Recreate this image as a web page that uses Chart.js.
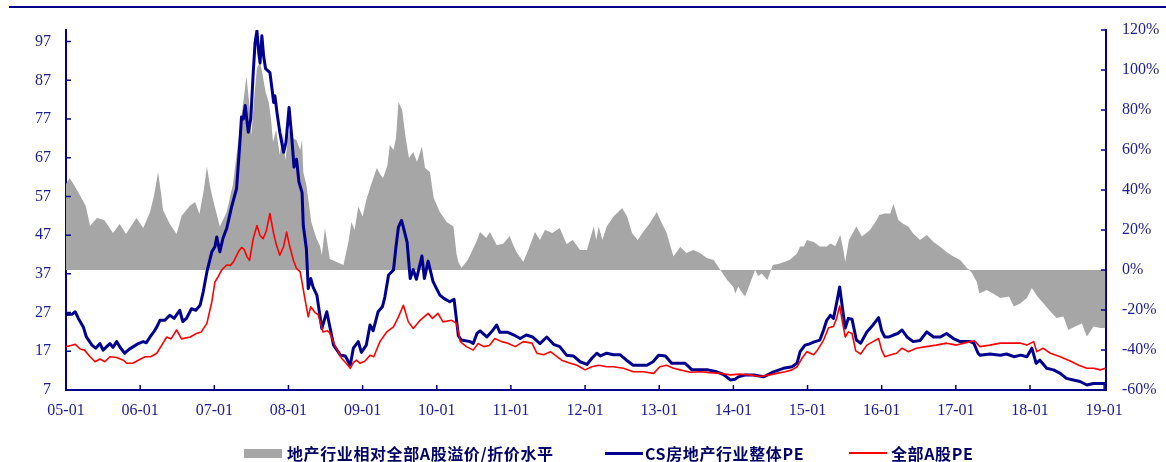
<!DOCTYPE html>
<html>
<head>
<meta charset="utf-8">
<script src="https://cdn.jsdelivr.net/npm/chart.js@4.4.1/dist/chart.umd.min.js"></script>
<style>
  html, body { margin: 0; padding: 0; background: #fff; }
  #wrap { position: relative; width: 1166px; height: 462px; overflow: hidden; }
  #c { position: absolute; left: 0; top: 0; }
  #topRule { position: absolute; left: 9px; top: 6px; width: 1157px; height: 2px; background: #00008B; }
  .leg { position: absolute; top: 444px; height: 18px; display: flex; align-items: center;
         font: bold 16px "Noto Sans CJK SC", sans-serif; letter-spacing: 0.6px; color: #000066; white-space: nowrap; }
  .sw { display: inline-block; }
</style>
</head>
<body>
<div id="wrap">
  <canvas id="c" width="1166" height="462"></canvas>
  <div id="topRule"></div>
  <div id="legend"></div>
</div>
<script>
// Month index 0 = 2005-01. Pairs are [month, value].

// Real-estate sector premium / discount vs. all A-shares (%), right axis
const premiumSeries = [
  [0,43],[0.6,46],[1.4,42],[2.5,36],[3.2,32],[3.9,22],[5,26],[6.2,25],[7.6,18.5],[8.7,23],
  [9.7,18],[11.4,26],[12.5,21],[13.6,29],[14.3,38],[14.9,49],[15.4,38],[15.7,30],[16.8,23],[17.9,18],
  [18.7,27],[20,32],[20.9,34],[21.6,28],[22.3,40],[22.8,51.7],[23.3,42],[23.8,35],[24.9,21.7],[26,29],
  [27,42.5],[27.7,60],[28.4,76.7],[29.2,96.7],[29.6,85],[30,67.5],[30.5,88],[30.9,101],[31.4,104],[31.8,98],
  [32.3,89],[32.8,84],[33.2,75],[33.5,64],[34,70],[34.6,57.5],[35.1,69],[35.5,55],[36.1,70],[36.7,66],
  [37.3,65],[37.9,60],[38.2,65],[38.4,49],[38.9,42.5],[39.7,24],[40.5,16],[41.1,12],[41.4,7.5],[41.9,21],
  [42.7,5.5],[43.8,4],[44.9,2.5],[45.7,14],[46.2,24],[46.7,20],[47.3,31.7],[48,26.7],[48.6,35],[49.2,41],
  [50.3,51],[50.8,48],[51.3,46],[52,52],[52.4,62.5],[53,60],[53.4,66],[53.8,84],[54.4,80],[54.9,67.5],
  [55.5,56],[56.2,59],[56.8,54],[57.6,61.7],[58.1,51],[58.9,49],[59.5,36],[60.5,29],[61.6,24],[62.7,21.7],
  [63.2,8],[63.5,4],[64,1],[65,5],[65.4,7.5],[66.4,14],[67,19],[68,16],[68.6,19],[69.7,12.5],
  [70.7,13],[71.8,17],[72.3,13],[72.9,9],[74,4],[74.8,10],[75.9,19],[76.7,15],[77.5,20],[78.7,18.5],
  [79.9,21],[81,13],[82,15],[83.2,10],[84.3,10],[85.4,21.7],[85.8,15],[86.2,21.7],[86.8,15],[87.5,21.7],
  [88.6,26.7],[90,31],[90.8,26.7],[91.6,18.5],[92.5,15],[93.4,19],[94.5,23.5],[95.6,29],[96.4,23.5],[97.2,18.5],
  [98.3,6.7],[99.4,11.5],[100.4,8.5],[101.5,10],[102.6,8.5],[103.7,6],[104.8,5],[105.9,0],[107,-5],[108,-8.5],
  [108.3,-11.7],[108.8,-8.3],[109.1,-10],[109.9,-13.3],[110.7,-6.7],[111.5,0],[112,-3],[112.6,-1.7],[113.5,-5],[114.4,2.5],
  [115.5,3.3],[117.1,5],[118.3,8.3],[118.8,11.7],[119.4,11.7],[119.9,15],[121,14],[122,11.7],[123.1,11.7],[123.7,13.3],
  [124.5,12],[125.3,17.5],[125.8,10],[126.1,4],[126.7,15],[127.9,21.7],[128.8,16.7],[130.1,20],[131.2,25],[131.6,27.5],
  [132.5,28.3],[133.4,28.3],[133.9,33],[134.7,25],[135.5,23],[136.3,21.7],[137.1,18.3],[138.2,15],[139.3,17.5],[140.4,14],
  [141.4,11.7],[142.5,9],[143.6,6.7],[144.7,5],[145.8,1],[146.5,-1],[147.4,-6],[147.8,-11.7],[149,-10],[150,-11.7],
  [151.2,-14],[152.6,-13.3],[153.4,-18.3],[154.4,-16.7],[155.5,-14],[156.3,-9],[157.2,-13.3],[158.2,-16.7],[159.3,-20.8],[160.3,-24],
  [161.4,-23.3],[162.2,-30],[163.3,-28.3],[164.4,-26.7],[165.2,-33.3],[166.3,-28.3],[167.4,-29],[168.2,-29]
];

// CS real-estate sector PE, left axis
const estatePE = [
  [0,26.5],[1,26.6],[1.5,27.2],[2,25.5],[2.8,23.3],[3.3,20.7],[4.2,18.6],[4.8,17.8],[5.5,19],[6,17.3],
  [7.1,19],[7.6,18],[8.2,19.5],[8.8,17.9],[9.5,16.5],[10.2,17.5],[10.9,18.2],[11.7,19],[12.5,19.5],[13,19.2],
  [13.6,20.7],[14.2,22],[14.7,23.3],[15.2,25],[16,25],[16.8,26.3],[17.5,25.5],[18.4,27.6],[18.9,24.7],[19.5,25.5],
  [20.3,28],[21,27.6],[21.7,28.9],[22.2,32.3],[22.8,37.5],[23.6,42.7],[24.1,44],[24.4,46.5],[24.9,42.7],[25.4,46.2],
  [26,48.7],[26.8,54.3],[27.6,59],[28.1,70],[28.4,77.5],[28.7,77],[29,80.5],[29.5,73.6],[29.9,77],[30.3,89],
  [30.6,96.8],[30.9,99.8],[31.2,94],[31.4,91.5],[31.7,98.5],[32,93],[32.3,90],[33,89],[33.4,84],[33.6,81.3],
  [33.8,83],[34.2,78],[34.6,73.6],[35.2,68.4],[35.6,71],[36.1,80],[36.5,73],[36.9,64.6],[37.3,66.6],[37.7,60.7],
  [38.2,58],[38.4,49.5],[38.9,43.5],[39.2,33.2],[39.6,35.8],[40,33.5],[40.6,31.5],[41.4,22.9],[42.2,27.2],[42.6,24.1],
  [43.3,18.6],[44.4,16],[45.2,15.8],[46,13.4],[46.5,17.8],[47.3,19.5],[47.8,16.7],[48.6,18.6],[49.2,23.8],[49.7,22.3],
  [50.5,27.2],[51.2,28.5],[51.6,31],[52.2,36.7],[53,38],[53.4,44],[53.8,49.1],[54.3,50.8],[54.6,49],[55.2,45.2],
  [55.7,35.8],[56.2,38.1],[56.7,35.6],[57.6,41.6],[58,35.8],[58.6,40.3],[59.4,35],[60.5,31.5],[61.2,30.6],[62.1,29.8],
  [62.8,30.4],[63.5,21],[64,19.9],[65.4,19.5],[65.9,19],[66.5,21.6],[67,22.3],[68.1,20.7],[69,22.3],[69.7,23.8],
  [70.2,21.9],[71.5,21.9],[72.5,21.2],[73.5,20.3],[74.5,21.2],[75.5,20.7],[76.7,19],[77.8,20.7],[78.9,18.8],[79.9,18.2],
  [81,16],[82.1,15.8],[83.2,14.3],[84.3,13.6],[85.1,15.2],[85.9,16.5],[86.5,15.8],[87.5,16.5],[88.6,16.1],[89.7,16.1],
  [90.7,14.7],[91.8,13.4],[92.9,13.4],[94,13.4],[95,14.3],[95.9,16],[97,15.8],[98,13.9],[99.1,13.9],[100.2,13.9],
  [101.3,12.2],[102.6,12.2],[103.9,12.2],[105.3,11.7],[106.4,11],[107.5,9.6],[108.3,9.8],[108.8,10.4],[110,10.9],[111.3,10.9],
  [112.9,10.4],[114.5,11.7],[116.1,12.6],[117.5,13],[118.3,13.9],[118.8,16.9],[119.6,18.6],[120.3,18.9],[121.2,19.5],[122,19.9],
  [122.6,22.5],[123.1,25],[123.7,26.3],[124.2,25.5],[124.7,29.4],[125.2,33.6],[125.7,27.6],[126.1,23],[126.6,25.5],[127.2,25.3],
  [127.9,19.9],[128.6,19.1],[129.6,22],[130.6,23.8],[131.5,25.7],[132,22.3],[132.5,20.7],[133.2,20.7],[133.9,21.2],[134.6,21.6],
  [135.3,22.5],[136.1,20.7],[137.1,19.5],[138.2,19.8],[139.3,22],[140.4,20.7],[141.5,20.7],[142.5,21.6],[143.6,20.3],[144.7,19.5],
  [145.6,19.5],[146.3,19.5],[146.9,19.1],[147.6,16.5],[147.9,16],[149.5,16.3],[151.2,16],[152.2,16.3],[153.4,15.6],[154.5,16],
  [155.5,15.6],[156.3,17.8],[157,13.9],[157.6,14.7],[158.7,12.6],[159.8,12.2],[160.9,11.3],[161.9,10],[163,9.6],[164.1,9.2],
  [165.2,8.3],[166.3,8.7],[167.4,8.7],[168.2,8.7]
];

// All A-share PE, left axis
const marketPE = [
  [0,18.2],[0.8,18.5],[1.5,18.8],[2.3,17.6],[3,17.3],[3.9,15.6],[4.7,14.3],[5.5,15],[6.3,14.3],[7.1,15.6],
  [8.2,15.4],[9.3,14.7],[9.8,13.9],[10.8,13.9],[11.7,14.7],[12.8,15.6],[13.7,15.6],[14.7,16.5],[15.5,18.6],[16.3,20.7],
  [17,20.2],[17.9,22.5],[18.7,20.2],[20.1,20.7],[21.1,21.6],[21.9,22],[22.8,24.2],[23.6,29.8],[24.1,34.9],[24.6,36.2],
  [25.2,38],[26,39.3],[26.6,39.2],[27.1,40.1],[27.9,42.7],[28.4,43.8],[28.8,43.4],[29.3,41.4],[29.7,40.5],[30.3,46.1],
  [30.9,49.5],[31.4,46.9],[31.9,46.1],[32.4,48],[33,52.6],[33.6,47.4],[34,44.8],[34.6,41.8],[35.2,44],[35.7,47.8],
  [36.1,44.8],[36.8,40.5],[37.3,38.4],[37.9,37.5],[38.7,30.2],[39.2,25.9],[39.6,28.5],[40.3,27],[40.8,26.5],[41.6,22],
  [42.3,22.3],[42.7,21.7],[43.5,18.6],[44.6,15.2],[45.4,13.8],[46,12.6],[46.5,14.1],[47,14.7],[47.6,13.9],[48.4,14.5],
  [49.2,16],[49.8,15.6],[50.8,19.5],[51.9,22],[53,23.3],[53.8,25.9],[54.6,28.9],[55.4,24.6],[56.2,22.9],[57.3,25],
  [58.6,26.8],[59.3,25.5],[60.2,26.8],[61,24.6],[62.4,25],[63.2,24.2],[63.8,19.5],[64.8,18.2],[65.9,17.3],[66.7,19],
  [67.6,18.2],[68.5,18.5],[69.4,20.3],[70.5,19.5],[71.5,19.1],[72.7,18.2],[74,19.5],[75.4,19.1],[76.2,16.5],[77.3,16.1],
  [78.4,16.9],[79.3,15.8],[80.2,14.7],[81.6,13.9],[82.7,13.4],[84,12.2],[85.1,13],[86.2,13.4],[87.5,13],[88.6,13],
  [90.2,12.6],[91.8,11.7],[93.4,11.7],[95.1,11.3],[96.1,13],[97.2,13.4],[98.3,12.6],[99.4,12.2],[101,11.6],[102.6,11.7],
  [104.2,11.5],[105.9,11.3],[107.5,10.9],[109,11.1],[110.7,10.9],[112.3,10.5],[113.9,10.9],[115,11.3],[116.4,11.7],[117.5,12.2],
  [118.3,13],[119.1,15.2],[119.9,16.9],[121,16.1],[121.6,17.3],[122.6,19.9],[123.4,23.1],[124.2,23.4],[124.7,25.5],[125.2,28.7],
  [125.6,25],[126.1,20.7],[126.6,22],[127.2,21.6],[127.8,17.1],[128.6,16.3],[129.6,18.6],[130.6,19.5],[131.5,20.3],[132,17.3],
  [132.5,15.6],[133.5,16.1],[134.4,16.5],[135.3,17.8],[136.3,16.9],[137.6,17.8],[139.2,18.2],[140.8,18.6],[142.5,19.1],[144.1,18.6],
  [145.8,19.3],[147,19.7],[147.9,18.2],[149.5,18.6],[151.2,19.1],[152.8,19.1],[154.5,19.1],[155.5,18.6],[156.6,19.5],[157.1,16.9],
  [158.1,17.8],[159.3,16.5],[160.9,15.6],[162.5,14.5],[163.9,13.4],[165.2,12.6],[166.3,12.6],[167.4,12.2],[168.2,12.6]
];

const seriesNames = ['地产行业相对全部A股溢价/折价水平', 'CS房地产行业整体PE', '全部A股PE'];
const xTickLabels = ['05-01','06-01','07-01','08-01','09-01','10-01','11-01','12-01','13-01','14-01','15-01','16-01','17-01','18-01','19-01'];
const xTickMonths = xTickLabels.map((_, i) => i * 12);
const leftTicks = [7, 17, 27, 37, 47, 57, 67, 77, 87, 97];
const rightTicks = [-60, -40, -20, 0, 20, 40, 60, 80, 100, 120];

const AXIS = '#00008B';
const LABEL = '#1c1c94';
const GREY = '#A6A6A6';
const BLUE = '#00008F';
const RED = '#FF0000';

const toPoints = arr => arr.map(([x, y]) => ({ x, y }));

// short tick marks pointing into the plot area
const inwardTicks = {
  id: 'inwardTicks',
  afterDatasetsDraw(chart) {
    const { ctx, chartArea: a, scales } = chart;
    const len = 5;
    ctx.save();
    ctx.strokeStyle = AXIS;
    ctx.lineWidth = 1.5;
    ctx.beginPath();
    scales.y.ticks.forEach(t => {
      const p = scales.y.getPixelForValue(t.value);
      ctx.moveTo(a.left, p); ctx.lineTo(a.left + len, p);
    });
    scales.y2.ticks.forEach(t => {
      const p = scales.y2.getPixelForValue(t.value);
      ctx.moveTo(a.right, p); ctx.lineTo(a.right - len, p);
    });
    scales.x.ticks.forEach(t => {
      const p = scales.x.getPixelForValue(t.value);
      ctx.moveTo(p, a.bottom); ctx.lineTo(p, a.bottom - len);
    });
    ctx.stroke();
    ctx.restore();
  }
};

const tickFont = { family: '"Liberation Serif", "Times New Roman", serif', size: 16 };

new Chart(document.getElementById('c'), {
  type: 'line',
  data: {
    datasets: [
      {
        label: seriesNames[0], data: toPoints(premiumSeries), yAxisID: 'y2',
        fill: 'origin', backgroundColor: GREY, borderWidth: 0, pointRadius: 0, order: 3
      },
      {
        label: seriesNames[1], data: toPoints(estatePE), yAxisID: 'y',
        borderColor: BLUE, borderWidth: 3, pointRadius: 0, fill: false, order: 2
      },
      {
        label: seriesNames[2], data: toPoints(marketPE), yAxisID: 'y',
        borderColor: RED, borderWidth: 1.6, pointRadius: 0, fill: false, order: 1
      }
    ]
  },
  options: {
    responsive: false,
    animation: false,
    devicePixelRatio: 1,
    layout: { padding: { top: 30, left: 0, right: 0, bottom: 0 } },
    elements: { line: { tension: 0, borderJoinStyle: 'round' } },
    plugins: { legend: { display: false }, tooltip: { enabled: false } },
    scales: {
      x: {
        type: 'linear', min: 0, max: 168.3,
        grid: { display: false, drawTicks: false },
        border: { display: true, color: AXIS, width: 2 },
        afterBuildTicks: s => { s.ticks = xTickMonths.map(v => ({ value: v })); },
        afterFit: s => { s.height = 72; },
        ticks: {
          padding: 11, color: LABEL, font: tickFont, maxRotation: 0, autoSkip: false,
          callback: v => xTickLabels[xTickMonths.indexOf(v)]
        }
      },
      y: {
        position: 'left', min: 7, max: 100,
        grid: { display: false, drawTicks: false },
        border: { display: true, color: AXIS, width: 2 },
        afterBuildTicks: s => { s.ticks = leftTicks.map(v => ({ value: v })); },
        afterFit: s => { s.width = 66; },
        ticks: { padding: 15, color: LABEL, font: tickFont }
      },
      y2: {
        position: 'right', min: -60, max: 120,
        grid: { display: false, drawTicks: false },
        border: { display: true, color: AXIS, width: 2 },
        afterBuildTicks: s => { s.ticks = rightTicks.map(v => ({ value: v })); },
        afterFit: s => { s.width = 60; },
        ticks: { padding: 16, color: LABEL, font: tickFont, callback: v => v + '%' }
      }
    }
  },
  plugins: [inwardTicks]
});

// legend row under the axis
const legendItems = [
  { left: 244, sw: { w: 38, h: 9, c: GREY }, gap: 5 },
  { left: 605, sw: { w: 38, h: 3, c: BLUE }, gap: 2 },
  { left: 849, sw: { w: 38, h: 2, c: RED }, gap: 4 }
];
const legendBox = document.getElementById('legend');
legendItems.forEach((it, i) => {
  const d = document.createElement('div');
  d.className = 'leg';
  d.style.left = it.left + 'px';
  const s = document.createElement('span');
  s.className = 'sw';
  s.style.width = it.sw.w + 'px';
  s.style.height = it.sw.h + 'px';
  s.style.background = it.sw.c;
  s.style.marginRight = it.gap + 'px';
  const t = document.createElement('span');
  t.textContent = seriesNames[i];
  d.appendChild(s);
  d.appendChild(t);
  legendBox.appendChild(d);
});
</script>
</body>
</html>
